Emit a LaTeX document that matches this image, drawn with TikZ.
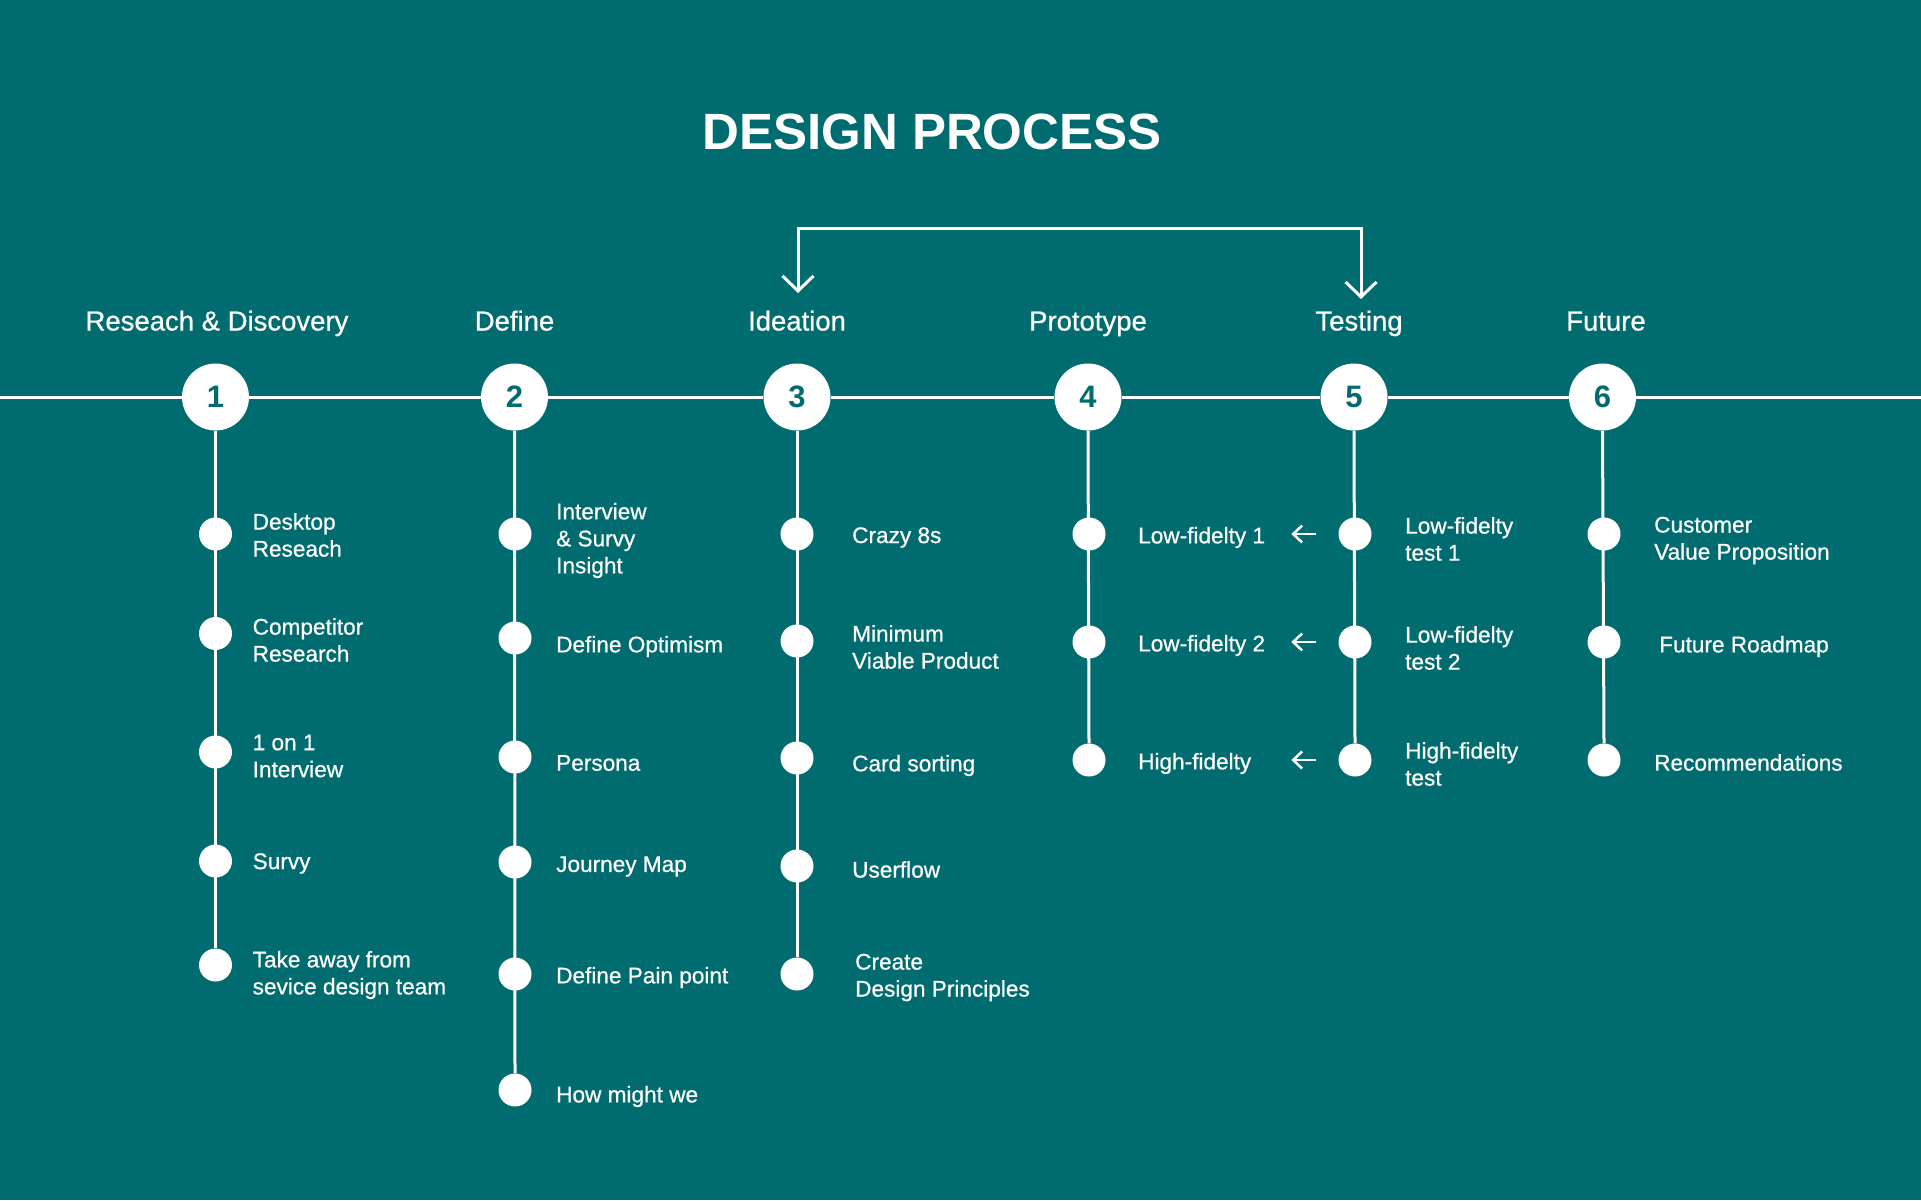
\documentclass[tikz,border=0pt]{standalone}
\usepackage{fontspec}
\setmainfont{Liberation Sans}
\newfontfamily\medfont[FakeBold=0.7]{Liberation Sans}
\usetikzlibrary{arrows.meta}
\definecolor{teal0}{RGB}{0,108,112}
\begin{document}
\begin{tikzpicture}[x=1pt,y=-1pt,
  line/.style={white,line width=3pt},
  stage/.style={circle,fill=white,minimum size=67pt,inner sep=0pt,text=teal0,font=\bfseries\fontsize{31}{36}\selectfont},
  dot/.style={circle,fill=white,minimum size=33pt,inner sep=0pt},
  head/.style={text=white,anchor=base,font=\medfont\fontsize{27.5}{32}\selectfont},
  item/.style={text=white,anchor=west,align=left,inner sep=0pt,font=\medfont\fontsize{22.6}{27}\selectfont},
  fb/.style={white,line width=3pt,line join=miter},
  back/.style={white,line width=2.5pt,-{Straight Barb[length=9pt,width=17pt]}},
]
\fill[teal0] (0,0) rectangle (1921,1200);
\useasboundingbox (0,0) rectangle (1921,1200);

\node[text=white,font=\bfseries\fontsize{51}{60}\selectfont] (title) at (932,132) {DESIGN PROCESS};

% stages
\node[stage] (s1) at (215.5,397) {1};
\node[stage] (s2) at (514.5,397) {2};
\node[stage] (s3) at (797,397) {3};
\node[stage] (s4) at (1088,397) {4};
\node[stage] (s5) at (1354,397) {5};
\node[stage] (s6) at (1602.5,397) {6};

\node[head] (h1) at (217,330.5) {Reseach \& Discovery};
\node[head] (h2) at (514.5,330.5) {Define};
\node[head] (h3) at (797,330.5) {Ideation};
\node[head] (h4) at (1088,330.5) {Prototype};
\node[head] (h5) at (1359,330.5) {Testing};
\node[head] (h6) at (1606,330.5) {Future};

\coordinate (L) at (0,397);
\coordinate (R) at (1921,397);
\draw[line] (L) -- (s1.west);
\draw[line] (s1.east) -- (s2.west);
\draw[line] (s2.east) -- (s3.west);
\draw[line] (s3.east) -- (s4.west);
\draw[line] (s4.east) -- (s5.west);
\draw[line] (s5.east) -- (s6.west);
\draw[line] (s6.east) -- (R);

% feedback loop
\coordinate (fa) at (798,293);
\coordinate (fA) at (798,228);
\coordinate (fB) at (1361,228);
\coordinate (fb) at (1361,299);
\draw[fb,{Straight Barb[length=15pt,width=31pt]}-{Straight Barb[length=15pt,width=31pt]}] (fa) -- (fA) -- (fB) -- (fb);

% column 1
\node[dot] (a1) at (215.5,534) {};
\node[dot] (a2) at (215.5,633.5) {};
\node[dot] (a3) at (215.5,752) {};
\node[dot] (a4) at (215.5,861) {};
\node[dot] (a5) at (215.5,965) {};
\draw[line] (s1.south) -- (a5.north);
\node[item] (ta1) at (252.5,535) {Desktop\\Reseach};
\node[item] (ta2) at (252.5,640) {Competitor\\Research};
\node[item] (ta3) at (252.5,756) {1 on 1\\Interview};
\node[item] (ta4) at (252.5,863.5) {Survy};
\node[item] (ta5) at (252.5,975) {Take away from\\sevice design team};

% column 2
\node[dot] (b1) at (515,534) {};
\node[dot] (b2) at (515,638) {};
\node[dot] (b3) at (515,757) {};
\node[dot] (b4) at (515,862) {};
\node[dot] (b5) at (515,974) {};
\node[dot] (b6) at (515,1090) {};
\draw[line] (s2.south) -- (b6.north);
\node[item] (tb1) at (556,540.5) {Interview\\\& Survy\\Insight};
\node[item] (tb2) at (556,646.5) {Define Optimism};
\node[item] (tb3) at (556,763) {Persona};
\node[item] (tb4) at (556,866.5) {Journey Map};
\node[item] (tb5) at (556,977.5) {Define Pain point};
\node[item] (tb6) at (556,1096.5) {How might we};

% column 3
\node[dot] (c1) at (797,534) {};
\node[dot] (c2) at (797,641) {};
\node[dot] (c3) at (797,758) {};
\node[dot] (c4) at (797,866) {};
\node[dot] (c5) at (797,974) {};
\draw[line] (s3.south) -- (c5.north);
\node[item] (tc1) at (852,537.5) {Crazy 8s};
\node[item] (tc2) at (852,647) {Minimum\\Viable Product};
\node[item] (tc3) at (852,765.5) {Card sorting};
\node[item] (tc4) at (852,869.5) {Userflow};
\node[item] (tc5) at (855,977.5) {Create\\Design Principles};

% column 4
\node[dot] (d1) at (1089,534) {};
\node[dot] (d2) at (1089,642) {};
\node[dot] (d3) at (1089,760) {};
\draw[line] (s4.south) -- (d3.north);
\node[item] (td1) at (1138,537.5) {Low-fidelty 1};
\node[item] (td2) at (1138,645.5) {Low-fidelty 2};
\node[item] (td3) at (1138,763.5) {High-fidelty};

% column 5
\node[dot] (e1) at (1355,534) {};
\node[dot] (e2) at (1355,642) {};
\node[dot] (e3) at (1355,760) {};
\draw[line] (s5.south) -- (e3.north);
\node[item] (te1) at (1405,539) {Low-fidelty\\test 1};
\node[item] (te2) at (1405,648) {Low-fidelty\\test 2};
\node[item] (te3) at (1405,764) {High-fidelty\\test};
\draw[back] ([xshift=-22pt]e1.west) -- ([xshift=-47pt]e1.west);
\draw[back] ([xshift=-22pt]e2.west) -- ([xshift=-47pt]e2.west);
\draw[back] ([xshift=-22pt]e3.west) -- ([xshift=-47pt]e3.west);

% column 6
\node[dot] (f1) at (1604,534) {};
\node[dot] (f2) at (1604,642) {};
\node[dot] (f3) at (1604,760) {};
\draw[line] (s6.south) -- (f3.north);
\node[item] (tf1) at (1654,540.5) {Customer\\Value Proposition};
\node[item] (tf2) at (1659,646.5) {Future Roadmap};
\node[item] (tf3) at (1654,762.5) {Recommendations};
\end{tikzpicture}
\end{document}
